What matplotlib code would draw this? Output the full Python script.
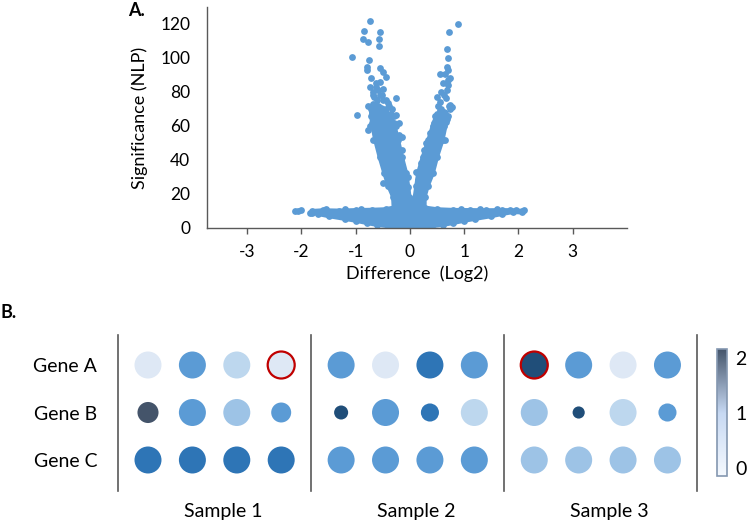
import matplotlib
matplotlib.use("Agg")
import matplotlib.pyplot as plt
import numpy as np
from matplotlib.colors import LinearSegmentedColormap, Normalize
from matplotlib.cm import ScalarMappable

plt.rcParams['font.family'] = ['Lato', 'DejaVu Sans']

# ---------------- Panel A data (volcano) ----------------
# outline of the dense (solid) region
dense_x = [-1.80, -1.80, -1.60, -1.30, -1.00, -0.70, -0.45, -0.30, -0.31, -0.40, -0.47, -0.56,
           -0.64, -0.70, -0.72, -0.68, -0.58, -0.45, -0.30, -0.22, -0.15, -0.07, -0.03, -0.01,
           0.00, 0.09, 0.12, 0.15, 0.24, 0.34, 0.44, 0.50, 0.62, 0.68, 0.60, 0.50, 0.42, 0.33,
           0.27, 0.27, 0.50, 0.80, 1.10, 1.40, 1.70, 1.95, 2.06, 2.06, 1.90, 1.70, 1.50, 1.20,
           1.00, 0.80, 0.60, 0.40, 0.00, -0.40, -0.60, -0.80, -1.00, -1.20, -1.50, -1.70]
dense_y = [8.9, 10.0, 10.4, 10.2, 10.5, 10.7, 11.0, 12.0, 18.4, 25.0, 32.2, 42.0,
           51.8, 62.0, 70.0, 73.0, 72.0, 70.0, 62.0, 51.8, 42.0, 32.2, 24.0, 18.4,
           14.0, 18.4, 25.0, 32.2, 42.0, 51.8, 62.0, 67.0, 68.0, 64.0, 51.8, 42.0, 32.2, 25.0,
           18.4, 12.0, 11.0, 10.6, 10.5, 10.4, 10.5, 10.4, 10.0, 9.2, 9.4, 8.3, 7.0, 5.4,
           4.3, 3.0, 1.8, 1.1, 0.8, 1.1, 1.8, 3.0, 4.3, 5.4, 7.0, 8.3]

# individual (sparse) points
pts_x = [-2.12, -2.06, -2.00,
         -0.74, -0.84, -0.55, -0.86, -0.77, -0.57, -0.57, -1.07, -0.76, -0.80, -0.80, -0.55,
         -0.49, -0.44, -0.71, -0.74, -0.62, -0.55, -0.68, -0.55, -0.25, -0.49, -0.40, -0.66,
         -0.98, -0.26, -0.77, -0.21, -0.15, -0.49, -0.72, -0.77, -0.66, -0.60, -0.52, -0.45,
         -0.35, -0.30, -0.25, -0.20, -0.62, -0.58, -0.68, -0.50, -0.74, -0.68, -0.44, -0.14,
         -0.33, -0.38, -0.04, -0.36, -0.28, -0.70,
         0.89, 0.72, 0.69, 0.71, 0.69, 0.71, 0.55, 0.64, 0.71, 0.69, 0.49, 0.67, 0.74, 0.55,
         0.64, 0.49, 0.67, 0.37, 0.28, 0.12, 0.62, 0.70, 0.58, 0.72, 0.62, 0.70, 0.73, 0.60,
         0.57, 0.42, 0.38, 0.30, 0.26, 0.20, 0.14, 0.64, 0.74, 0.52, 0.77, 0.46, 0.55,
         -1.85, -1.55, -1.20, -0.90, 1.85, 2.10, 1.60, 1.30, 0.95, -0.02, 0.03, -0.25, 0.22]
pts_y = [10.2, 10.2, 10.3,
         121.9, 115.9, 115.5, 111.2, 109.6, 111.0, 107.0, 100.8, 98.8, 94.9, 93.0, 93.9,
         92.0, 89.0, 88.0, 83.1, 83.0, 86.0, 80.2, 78.2, 76.3, 75.3, 73.3, 71.6,
         66.5, 66.5, 57.6, 61.6, 53.7, 26.3, 66.0, 72.0, 77.0, 75.0, 78.0, 75.0,
         67.0, 66.0, 60.0, 55.0, 85.0, 81.0, 78.0, 82.0, 60.0, 52.0, 36.0, 46.0,
         70.0, 72.0, 30.0, 40.0, 48.0, 68.0,
         120.0, 115.5, 105.3, 100.2, 94.9, 93.0, 90.6, 90.6, 87.0, 81.2, 77.3, 76.3, 72.4,
         69.4, 67.5, 63.5, 62.5, 55.7, 44.9, 33.1, 60.0, 66.0, 70.0, 72.0, 78.0, 84.0, 88.0,
         85.0, 80.0, 60.0, 56.0, 50.0, 46.0, 38.0, 28.0, 52.0, 70.0, 72.0, 71.0, 66.0, 74.0,
         9.0, 11.0, 11.2, 11.2, 10.4, 10.4, 11.2, 11.2, 11.2, 1.0, 0.8, 14.0, 14.0]

x_ticks = [-3, -2, -1, 0, 1, 2, 3]
y_ticks = [0, 20, 40, 60, 80, 100, 120]

# ---------------- Panel B data (dot plot) ----------------
genes = ["Gene A", "Gene B", "Gene C"]
samples = ["Sample 1", "Sample 2", "Sample 3"]
gene_a_value = [0.3, 1.2, 0.6, 0.3, 1.2, 0.3, 1.6, 1.2, 1.9, 1.2, 0.3, 1.2]
gene_b_value = [2.15, 1.2, 0.8, 1.2, 1.9, 1.2, 1.6, 0.6, 0.8, 1.9, 0.6, 1.2]
gene_c_value = [1.6, 1.6, 1.6, 1.6, 1.2, 1.2, 1.2, 1.2, 0.8, 0.8, 0.8, 0.8]
gene_a_size = [1.0] * 12
gene_b_size = [0.78, 1.0, 1.0, 0.74, 0.52, 1.0, 0.67, 1.0, 1.0, 0.45, 1.0, 0.67]
gene_c_size = [1.0] * 12
gene_a_flag = [0, 0, 0, 1, 0, 0, 0, 0, 1, 0, 0, 0]
cbar_ticks = [0, 1, 2]

# ---------------- Figure ----------------
W, H = 750, 523
fig = plt.figure(figsize=(W / 100, H / 100), dpi=100)

def frac(x0, y0, x1, y1):
    return [x0 / W, 1 - y1 / H, (x1 - x0) / W, (y1 - y0) / H]

blue = '#5b9bd5'
axis_col = '#595959'

axA = fig.add_axes(frac(207, 7, 627, 228))
axA.fill(dense_x, dense_y, color=blue, lw=3.0, ec=blue, joinstyle='round', zorder=2)
axA.scatter(dense_x, dense_y, s=24, color=blue, lw=0, zorder=3)
axA.scatter(pts_x, pts_y, s=24, color=blue, lw=0, zorder=3)
axA.set_xlim(-3.74, 4.0)
axA.set_ylim(0, 130)
axA.set_xticks(x_ticks)
axA.set_xticklabels([str(t) for t in x_ticks])
axA.set_yticks(y_ticks)
for s in ['top', 'right']:
    axA.spines[s].set_visible(False)
for s in ['left', 'bottom']:
    axA.spines[s].set_color(axis_col)
    axA.spines[s].set_linewidth(1.0)
    axA.spines[s].set_zorder(4)
axA.tick_params(axis='x', length=4.5, width=1, color=axis_col, pad=7, labelsize=12.5)
axA.tick_params(axis='y', length=0, pad=12, labelsize=12.5)
axA.set_xlabel("Difference  (Log2)", fontsize=13, labelpad=4)
axA.set_ylabel("Significance (NLP)", fontsize=13, labelpad=9)
fig.text(128 / W, 1 - 10 / H, "A.", fontsize=13, fontweight='bold', va='center', ha='left')
fig.text(0 / W, 1 - 313 / H, "B.", fontsize=13, fontweight='bold', va='center', ha='left')

# Panel B
dot_cmap = LinearSegmentedColormap.from_list(
    'dots', [(0.0, '#ffffff'), (0.3 / 2.15, '#dde8f5'), (0.6 / 2.15, '#bdd7ee'),
             (0.8 / 2.15, '#9dc3e6'), (1.2 / 2.15, '#5b9bd5'), (1.6 / 2.15, '#2e75b6'),
             (1.9 / 2.15, '#1f4e79'), (1.0, '#44546a')])
dot_norm = Normalize(0, 2.15)

axB = fig.add_axes(frac(100, 330, 710, 495))
axB.set_xlim(-1.081, 12.658)
axB.set_ylim(2.737, -0.737)
group_step = 4.35
full_d = 27 * 0.72  # points
vals = [gene_a_value, gene_b_value, gene_c_value]
sizes = [gene_a_size, gene_b_size, gene_c_size]
for gi in range(3):
    xs = [(i // 4) * group_step + (i % 4) for i in range(12)]
    ys = [gi] * 12
    cols = [dot_cmap(dot_norm(v)) for v in vals[gi]]
    ss = [(full_d * r) ** 2 for r in sizes[gi]]
    ecs = []
    lws = []
    for i in range(12):
        if gi == 0 and gene_a_flag[i]:
            ecs.append('#c00000'); lws.append(1.6)
        else:
            ecs.append('none'); lws.append(0)
    axB.scatter(xs, ys, s=ss, c=cols, edgecolors=ecs, linewidths=lws, zorder=3)
for k in range(4):
    axB.plot([k * group_step - 0.68] * 2, [-0.64, 2.65], color=axis_col, lw=1.2, zorder=2)
for s in axB.spines.values():
    s.set_visible(False)
axB.set_xticks([])
axB.set_yticks([0, 1, 2])
axB.set_yticklabels(genes)
axB.tick_params(axis='y', length=0, pad=2, labelsize=14)
for j, name in enumerate(samples):
    axB.text(j * group_step + 1.69, 3.09, name, ha='center', va='center', fontsize=14,
             clip_on=False)

# colorbar
bar_cmap = LinearSegmentedColormap.from_list(
    'bar', [(0.0, '#f5f9fe'), (0.5, '#c6d8f2'), (1.0, '#44546a')])
cax = fig.add_axes(frac(717, 349, 727, 476))
sm = ScalarMappable(norm=Normalize(-0.15, 2.16), cmap=bar_cmap)
cb = fig.colorbar(sm, cax=cax, ticks=cbar_ticks)
cb.outline.set_edgecolor('#8497b0')
cb.outline.set_linewidth(1.2)
cb.ax.tick_params(length=0, pad=6, labelsize=14)
cb.ax.set_yticklabels([str(t) for t in cbar_ticks])

fig.savefig("out.png", dpi=100)
